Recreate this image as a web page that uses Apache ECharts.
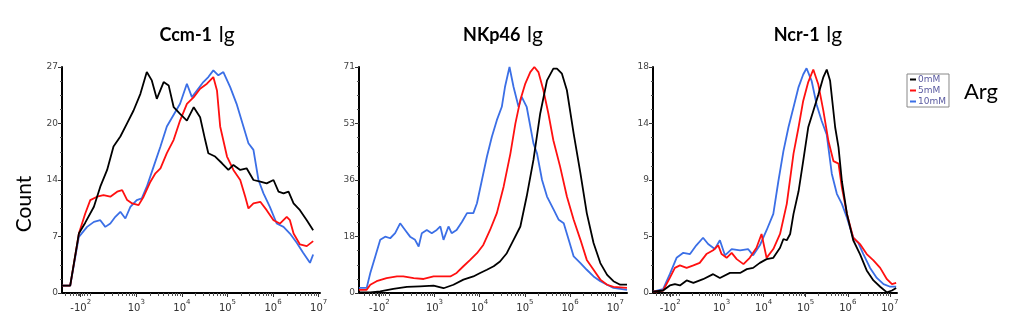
<!DOCTYPE html>
<html>
<head>
<meta charset="utf-8">
<script src="https://cdn.jsdelivr.net/npm/echarts@6/dist/echarts.min.js"></script>
<style>
  html, body { margin: 0; padding: 0; background: #fff; }
  #main { width: 1013px; height: 314px; }
</style>
</head>
<body>
<div id="main"></div>
<script>
// x values are in display decades (biexponential axis): 3 = 10^3, 7 = 10^7
var names = ['0mM', '5mM', '10mM'];
var colors = ['#000000', '#ff1010', '#3b6fe6'];
var panelTitles = ['Ccm-1', 'NKp46', 'Ncr-1'];
var yMax = [27, 71, 18];

var xTickValues = [1.78, 3, 4, 5, 6, 7];
var xTickBase = ['-10', '10', '10', '10', '10', '10'];
var xTickExp = ['2', '3', '4', '5', '6', '7'];

// Ccm-1 lg
var ccm0 = [[1.37,0.87],[1.55,0.87],[1.74,7.1],[1.88,8.4],[2.07,10.3],[2.21,12.7],[2.36,14.7],[2.50,17.5],[2.65,18.7],[2.80,20.3],[2.94,21.8],[3.09,23.8],[3.23,26.4],[3.34,25.4],[3.45,23.2],[3.60,25.2],[3.71,24.8],[3.82,22.2],[3.96,21.4],[4.11,20.6],[4.26,22.2],[4.40,21.0],[4.51,18.3],[4.58,16.7],[4.73,16.3],[4.88,15.5],[5.02,14.7],[5.13,15.3],[5.28,14.7],[5.42,14.9],[5.57,13.5],[5.72,13.3],[5.86,13.1],[6.01,13.5],[6.12,12.1],[6.23,11.9],[6.34,12.1],[6.45,10.7],[6.59,9.9],[6.74,8.7],[6.88,7.5]];
var ccm5 = [[1.37,0.87],[1.55,0.87],[1.74,7.1],[1.88,9.5],[1.99,11.1],[2.14,11.5],[2.28,11.7],[2.43,11.5],[2.58,12.1],[2.69,12.3],[2.80,11.1],[2.91,10.7],[3.05,10.5],[3.16,11.5],[3.31,13.3],[3.42,14.3],[3.53,14.9],[3.67,16.7],[3.82,18.3],[3.96,20.6],[4.11,22.6],[4.26,23.4],[4.40,24.4],[4.55,25.0],[4.69,25.8],[4.77,24.2],[4.84,19.9],[4.99,16.3],[5.13,14.7],[5.28,13.5],[5.39,11.5],[5.46,10.1],[5.57,10.7],[5.72,10.9],[5.86,9.9],[6.01,8.7],[6.15,8.3],[6.30,9.1],[6.37,8.7],[6.45,7.1],[6.59,5.8],[6.74,5.6],[6.88,6.2]];
var ccm10 = [[1.37,0.87],[1.55,0.87],[1.74,6.7],[1.92,7.9],[2.07,8.5],[2.21,8.7],[2.32,7.9],[2.43,8.3],[2.54,9.1],[2.65,9.7],[2.76,8.9],[2.87,10.3],[3.01,11.1],[3.12,11.3],[3.23,12.7],[3.38,15.1],[3.53,17.5],[3.67,19.9],[3.82,21.3],[3.96,22.6],[4.11,25.0],[4.22,23.4],[4.33,24.2],[4.47,25.2],[4.58,25.8],[4.69,26.6],[4.80,26.0],[4.91,26.4],[5.06,24.6],[5.20,22.6],[5.35,19.9],[5.46,17.9],[5.57,17.1],[5.68,13.5],[5.79,11.9],[5.93,10.3],[6.08,8.3],[6.23,7.9],[6.37,7.1],[6.52,6.0],[6.66,4.8],[6.81,3.6],[6.88,4.6]];

// NKp46 lg
var nkp0 = [[1.33,0.2],[1.58,0.2],[1.80,0.5],[2.09,1.3],[2.39,1.9],[2.68,2.1],[2.98,2.3],[3.20,1.5],[3.42,2.6],[3.64,4.2],[3.86,5.2],[4.01,6.3],[4.16,7.3],[4.31,8.4],[4.45,9.9],[4.60,12.5],[4.75,16.7],[4.90,20.9],[5.04,30.3],[5.19,41.8],[5.34,56.4],[5.49,66.8],[5.63,70.5],[5.71,70.5],[5.82,68.9],[5.93,63.7],[6.08,50.1],[6.23,37.6],[6.37,25.1],[6.52,15.7],[6.67,9.4],[6.82,5.7],[6.96,3.7],[7.11,2.6],[7.26,2.6]];
var nkp5 = [[1.33,1.0],[1.50,1.0],[1.58,2.6],[1.72,3.7],[1.94,4.7],[2.17,5.2],[2.31,5.2],[2.54,4.7],[2.76,4.4],[2.98,5.2],[3.20,5.2],[3.35,5.2],[3.49,6.3],[3.64,8.4],[3.79,10.4],[3.94,12.5],[4.08,15.1],[4.23,19.8],[4.38,25.1],[4.53,33.4],[4.68,43.8],[4.79,53.2],[4.90,60.6],[5.01,65.8],[5.12,69.4],[5.21,71.0],[5.30,69.4],[5.41,63.7],[5.52,56.4],[5.63,48.0],[5.78,39.7],[5.93,30.3],[6.08,23.0],[6.23,16.7],[6.37,10.4],[6.52,7.3],[6.67,4.2],[6.82,2.6],[6.96,1.9],[7.26,1.6]];
var nkp10 = [[1.33,1.6],[1.50,1.6],[1.58,6.3],[1.69,11.5],[1.80,16.7],[1.91,17.7],[2.02,17.2],[2.13,18.8],[2.24,21.9],[2.35,19.8],[2.46,17.7],[2.57,16.7],[2.65,14.6],[2.72,18.8],[2.83,19.8],[2.94,18.8],[3.05,19.8],[3.13,20.9],[3.20,16.7],[3.31,20.9],[3.38,18.8],[3.49,19.8],[3.61,22.4],[3.72,25.1],[3.86,25.1],[3.94,28.2],[4.05,35.5],[4.16,42.8],[4.27,49.1],[4.38,54.3],[4.49,58.5],[4.56,64.7],[4.66,71.0],[4.75,64.7],[4.86,58.5],[4.93,61.6],[5.04,58.5],[5.19,47.0],[5.27,43.8],[5.38,35.5],[5.49,30.3],[5.64,26.1],[5.75,23.0],[5.86,21.9],[5.97,16.7],[6.08,11.5],[6.23,9.4],[6.37,7.3],[6.52,5.2],[6.67,3.7],[6.82,2.6],[6.96,1.6],[7.26,1.0]];

// Ncr-1 lg
var ncr0 = [[1.37,0.1],[1.61,0.2],[1.77,0.6],[1.89,0.7],[2.01,0.6],[2.17,1.0],[2.33,0.8],[2.56,1.1],[2.80,1.5],[2.96,1.2],[3.20,1.6],[3.44,1.6],[3.60,1.9],[3.75,2.0],[3.91,2.4],[4.07,2.7],[4.23,2.8],[4.39,3.6],[4.47,4.3],[4.55,4.2],[4.63,4.7],[4.71,6.3],[4.83,8.1],[4.94,10.5],[5.06,13.2],[5.18,14.5],[5.30,15.8],[5.42,17.2],[5.50,17.8],[5.58,16.9],[5.70,13.2],[5.78,11.6],[5.86,8.9],[5.98,6.3],[6.13,4.2],[6.29,3.1],[6.45,1.8],[6.61,1.0],[6.77,0.5],[6.93,0.05],[7.05,0.2],[7.15,0.4]];
var ncr5 = [[1.37,0.1],[1.61,0.2],[1.77,1.2],[1.89,2.0],[2.01,2.2],[2.17,2.0],[2.33,2.2],[2.48,2.4],[2.64,3.1],[2.80,3.4],[2.92,3.8],[3.00,3.1],[3.12,2.8],[3.24,3.2],[3.36,2.7],[3.52,2.3],[3.67,2.8],[3.83,3.6],[3.95,4.7],[4.07,2.8],[4.23,3.5],[4.39,4.7],[4.55,7.1],[4.71,11.1],[4.83,13.2],[4.94,15.3],[5.06,16.8],[5.18,17.8],[5.30,16.6],[5.42,14.5],[5.54,12.1],[5.66,10.5],[5.78,10.3],[5.86,8.4],[5.98,6.3],[6.13,4.4],[6.29,3.9],[6.45,3.1],[6.61,2.6],[6.77,2.0],[6.93,1.1],[7.05,0.7],[7.15,0.8]];
var ncr10 = [[1.37,0.1],[1.61,0.3],[1.77,1.5],[1.93,2.8],[2.09,3.2],[2.25,3.1],[2.40,3.8],[2.56,4.4],[2.68,3.9],[2.84,3.5],[2.96,4.2],[3.08,3.0],[3.24,3.5],[3.44,3.4],[3.63,3.5],[3.75,3.0],[3.91,3.8],[4.07,5.0],[4.23,6.3],[4.35,8.9],[4.47,11.3],[4.59,13.2],[4.71,14.8],[4.83,16.4],[4.94,17.4],[5.02,17.9],[5.14,16.9],[5.26,15.0],[5.38,13.7],[5.50,12.6],[5.62,9.5],[5.74,7.9],[5.86,7.1],[5.98,6.0],[6.13,4.4],[6.25,4.0],[6.37,3.1],[6.53,2.0],[6.69,1.2],[6.85,0.7],[7.01,0.5],[7.15,0.5]];

var panelData = [[ccm0, ccm5, ccm10], [nkp0, nkp5, nkp10], [ncr0, ncr5, ncr10]];

// plot areas
var grids = [
    {left: 62, top: 67, width: 258, height: 226},
    {left: 359, top: 67, width: 268, height: 226},
    {left: 653, top: 67, width: 244, height: 226}
];
var xMin = [1.37, 1.33, 1.37];
var xMax = [7.03, 7.26, 7.17];

// small ticks: near-zero region and log decades
var minorTicks = [1.45, 1.55, 1.62, 1.68, 1.72, 1.75, 1.82, 1.86, 1.92, 2.0];
for (var d = 2; d <= 6; d++) {
    for (var k = 2; k <= 9; k++) {
        minorTicks.push(d + Math.log10(k));
    }
}

function xLabel(v) {
    for (var i = 0; i < xTickValues.length; i++) {
        if (Math.abs(xTickValues[i] - v) < 1e-6) {
            return '{b|' + xTickBase[i] + '}{s|' + xTickExp[i] + '}';
        }
    }
    return '';
}

var chart = echarts.init(document.getElementById('main'), null, {renderer: 'canvas'});

var xAxes = [];
var yAxes = [];
var series = [];
var graphics = [];
var titleX = [197, 503, 808];

for (var p = 0; p < 3; p++) {
    xAxes.push({
        type: 'value', gridIndex: p, min: xMin[p], max: xMax[p],
        axisLine: {lineStyle: {color: '#000', width: 2}},
        axisTick: {length: 4, customValues: xTickValues, lineStyle: {color: '#333'}},
        axisLabel: {
            customValues: xTickValues, formatter: xLabel, margin: 6,
            rich: {
                b: {fontSize: 10, color: '#333', fontFamily: 'DejaVu Sans', verticalAlign: 'bottom', lineHeight: 14},
                s: {fontSize: 7, color: '#333', fontFamily: 'DejaVu Sans', verticalAlign: 'top', lineHeight: 14}
            }
        },
        splitLine: {show: false}
    });
    xAxes.push({
        type: 'value', gridIndex: p, min: xMin[p], max: xMax[p], position: 'bottom',
        axisLine: {show: false},
        axisTick: {length: 3, customValues: minorTicks, lineStyle: {color: '#555'}},
        axisLabel: {show: false},
        splitLine: {show: false}
    });
    yAxes.push({
        type: 'value', gridIndex: p, min: 0, max: yMax[p], interval: yMax[p] / 4,
        axisLine: {show: true, lineStyle: {color: '#000', width: 2}},
        axisTick: {show: true, length: 4, lineStyle: {color: '#333'}},
        minorTick: {show: true, splitNumber: 4, length: 2, lineStyle: {color: '#555'}},
        axisLabel: {
            fontSize: 9, color: '#444', fontFamily: 'DejaVu Sans', margin: 4,
            formatter: function (v) { return Math.round(v); }
        },
        splitLine: {show: false}
    });
    for (var s = 0; s < 3; s++) {
        series.push({
            name: names[s], type: 'line', xAxisIndex: p * 2, yAxisIndex: p,
            data: panelData[p][s], showSymbol: false, symbol: 'none',
            color: colors[s], lineStyle: {width: 1.8, color: colors[s]},
            z: 3 - s
        });
    }
    graphics.push({
        type: 'text', x: titleX[p], y: 35,
        style: {
            text: '{a|' + panelTitles[p] + '}  {b|lg}',
            align: 'center', verticalAlign: 'middle',
            rich: {
                a: {fontSize: 18, fontWeight: 'bold', fontFamily: 'Lato', fill: '#000'},
                b: {fontSize: 21, fontFamily: 'Lato', fill: '#000'}
            }
        }
    });
}

graphics.push({
    type: 'text', x: 24, y: 204, rotation: Math.PI / 2,
    style: {text: 'Count', fontSize: 21, fontFamily: 'Lato', fill: '#000', align: 'center', verticalAlign: 'middle'}
});
graphics.push({
    type: 'text', x: 964, y: 92,
    style: {text: 'Arg', fontSize: 22, fontFamily: 'Lato', fill: '#000', align: 'left', verticalAlign: 'middle'}
});

var option = {
    animation: false,
    backgroundColor: '#fff',
    grid: grids,
    xAxis: xAxes,
    yAxis: yAxes,
    legend: {
        data: names, orient: 'vertical', left: 907, top: 74,
        itemWidth: 6, itemHeight: 2, itemGap: 2, icon: 'rect',
        padding: [1, 3, 1, 3], borderColor: '#888', borderWidth: 1, backgroundColor: '#fff',
        textStyle: {fontSize: 9, color: '#5a5aa0', fontFamily: 'DejaVu Sans', padding: [0, 0, 0, -3]}
    },
    graphic: graphics,
    series: series
};
chart.setOption(option);
</script>
</body>
</html>
